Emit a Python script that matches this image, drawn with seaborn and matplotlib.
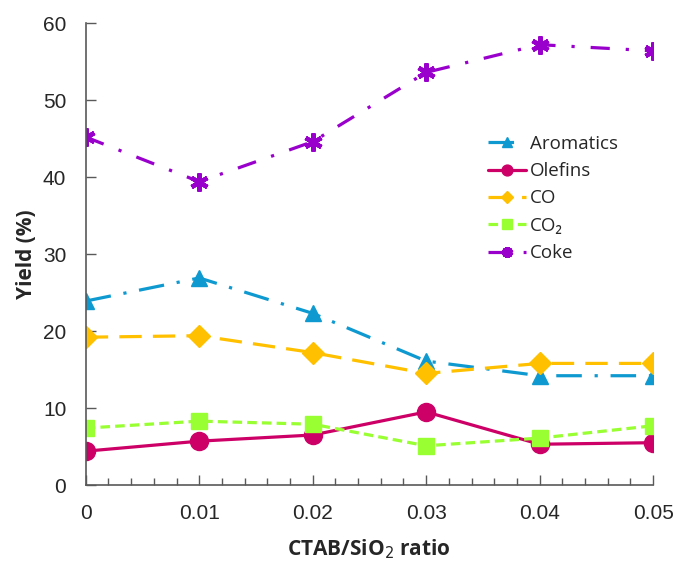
import numpy as np
import pandas as pd
import seaborn as sns
import matplotlib.pyplot as plt
from matplotlib.ticker import MultipleLocator

# values
ratio = [0, 0.01, 0.02, 0.03, 0.04, 0.05]
aromatics = [23.9, 26.9, 22.3, 16.1, 14.2, 14.2]
olefins = [4.4, 5.7, 6.5, 9.5, 5.3, 5.5]
co = [19.2, 19.4, 17.2, 14.5, 15.8, 15.8]
co2 = [7.4, 8.3, 7.9, 5.1, 6.1, 7.7]
coke = [45.2, 39.4, 44.6, 53.6, 57.2, 56.4]

series_names = ['Aromatics', 'Olefins', 'CO', 'CO₂', 'Coke']
series_values = [aromatics, olefins, co, co2, coke]
colors = ['#0e9ad0', '#cc0066', '#ffc000', '#99ff33', '#9900cc']
markers = ['^', 'o', 'D', 's', (6, 2, 0)]
dashes = [(0, (8, 4, 1, 4)), '-', (0, (7, 3.5)), (0, (3, 1.6)), (0, (6, 5, 1, 5))]
msizes = [12, 13, 11, 11, 13]

sns.set_style('ticks')
plt.rcParams['font.family'] = ['Open Sans', 'DejaVu Sans']

fig = plt.figure(figsize=(6.81, 5.64), dpi=100)
ax = fig.add_axes([0.126, 0.14, 0.833, 0.819])

for name, vals, c, m, ls, ms in zip(series_names, series_values, colors, markers, dashes, msizes):
    df = pd.DataFrame({'ratio': ratio, 'yield': vals})
    sns.lineplot(data=df, x='ratio', y='yield', ax=ax, color=c, label=name,
                 marker=m, markersize=ms, linewidth=2.3, linestyle=ls,
                 markeredgecolor=c, markeredgewidth=3.2 if name == 'Coke' else 1)

ax.set_xlim(0, 0.05)
ax.set_ylim(0, 60)
ax.set_xticks(ratio)
ax.set_xticklabels(['0', '0.01', '0.02', '0.03', '0.04', '0.05'], family='Liberation Sans')
ax.xaxis.set_minor_locator(MultipleLocator(0.002))
ax.set_yticks(range(0, 61, 10))
ax.tick_params(axis='both', which='both', direction='in', labelsize=15, color='#595959', width=1)
ax.tick_params(axis='both', which='major', length=7, pad=14)
ax.tick_params(axis='x', which='minor', length=5)
ax.tick_params(axis='y', pad=14)
for lab in ax.get_yticklabels():
    lab.set_family('Liberation Sans')

for s in ['top', 'right']:
    ax.spines[s].set_visible(False)
for s in ['left', 'bottom']:
    ax.spines[s].set_color('#595959')
    ax.spines[s].set_linewidth(1.2)

ax.set_xlabel('CTAB/SiO$_2$ ratio', fontsize=15, fontweight='bold', labelpad=10)
ax.set_ylabel('Yield (%)', fontsize=15, fontweight='bold', labelpad=4)

ax.legend(loc='upper left', bbox_to_anchor=(0.68, 0.795), frameon=False, fontsize=13.5,
          handlelength=2.0, handletextpad=0.2, labelspacing=0.5, markerscale=0.6)

fig.savefig('out.png', dpi=100)
